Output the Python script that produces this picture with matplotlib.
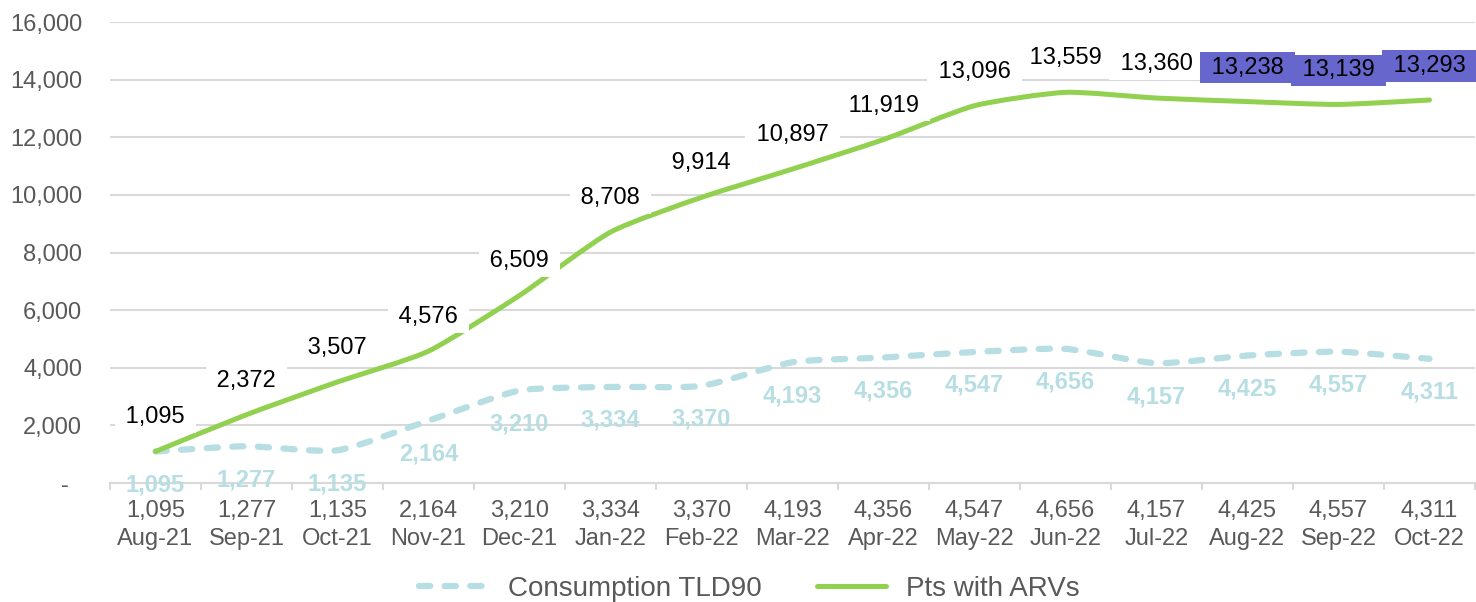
import matplotlib
matplotlib.use("Agg")
import matplotlib.pyplot as plt
import numpy as np
from matplotlib.path import Path
from matplotlib.patches import PathPatch
from matplotlib.lines import Line2D

plt.rcParams["font.family"] = ["Liberation Sans", "DejaVu Sans"]

months = ["Aug-21", "Sep-21", "Oct-21", "Nov-21", "Dec-21", "Jan-22", "Feb-22",
          "Mar-22", "Apr-22", "May-22", "Jun-22", "Jul-22", "Aug-22", "Sep-22", "Oct-22"]
consumption = [1095, 1277, 1135, 2164, 3210, 3334, 3370, 4193, 4356, 4547, 4656,
               4157, 4425, 4557, 4311]
pts_arvs = [1095, 2372, 3507, 4576, 6509, 8708, 9914, 10897, 11919, 13096, 13559,
            13360, 13238, 13139, 13293]
highlight_from = 12  # last three months get a coloured label box

GREEN = "#92D050"
BLUE = "#B7DEE2"
PURPLE = "#6666CC"
GRID = "#D9D9D9"
TICK = "#595959"


def smooth_path(xs, ys, k=0.1):
    """Bezier path through the points with gentle Catmull-Rom style tangents."""
    pts = np.column_stack([xs, ys]).astype(float)
    n = len(pts)
    verts = [pts[0]]
    codes = [Path.MOVETO]
    for i in range(n - 1):
        p0 = pts[i - 1] if i > 0 else pts[i]
        p1, p2 = pts[i], pts[i + 1]
        p3 = pts[i + 2] if i + 2 < n else pts[i + 1]
        c1 = p1 + (p2 - p0) * k
        c2 = p2 - (p3 - p1) * k
        verts += [c1, c2, p2]
        codes += [Path.CURVE4] * 3
    return Path(verts, codes)


fig = plt.figure(figsize=(14.76, 6.02), dpi=100)
ax = fig.add_axes([110 / 1476, 1 - 483 / 602, 1365 / 1476, 461 / 602])

x = np.arange(len(months))

dash_style = (0, (1.8, 2.3))
ax.add_patch(PathPatch(smooth_path(x, consumption), fill=False, edgecolor=BLUE,
                       lw=4.5, linestyle=dash_style, capstyle="round", zorder=3))
ax.add_patch(PathPatch(smooth_path(x, pts_arvs), fill=False, edgecolor=GREEN,
                       lw=3.6, capstyle="round", zorder=4))

# value labels
for i, v in enumerate(pts_arvs):
    face = PURPLE if i >= highlight_from else "white"
    ax.annotate(f" {v:,} ", (x[i], v), xytext=(0, 24.5), textcoords="offset points",
                ha="center", va="center", fontsize=17, color="black", zorder=6,
                bbox=dict(boxstyle="square,pad=0.2", fc=face, ec="none"))
for i, v in enumerate(consumption):
    ax.annotate(f"{v:,}", (x[i], v), xytext=(0, -24), textcoords="offset points",
                ha="center", va="center", fontsize=17, fontweight="bold",
                color=BLUE, zorder=5)

ax.set_xlim(-0.5, len(months) - 0.5)
ax.set_ylim(0, 16000)

ax.set_xticks(x)
ax.set_xticklabels([f"{c:,}\n{m}" for c, m in zip(consumption, months)],
                   linespacing=1.4)
ax.set_xticks(np.arange(-0.5, len(months)), minor=True)
ax.tick_params(axis="x", which="major", length=0, pad=12, labelsize=17, labelcolor=TICK)
ax.tick_params(axis="x", which="minor", length=5, width=1.5, color=GRID, direction="out")

yt = np.arange(0, 16001, 2000)
ax.set_yticks(yt)
ax.set_yticklabels(["-  " if t == 0 else f"{t:,}" for t in yt])
ax.tick_params(axis="y", length=0, pad=20, labelsize=17, labelcolor=TICK)

ax.grid(axis="y", color=GRID, lw=1.5, zorder=0)
ax.set_axisbelow(True)
for s in ["top", "right", "left"]:
    ax.spines[s].set_visible(False)
ax.spines["bottom"].set_color(GRID)
ax.spines["bottom"].set_linewidth(1.5)

handles = [
    Line2D([], [], color=BLUE, lw=4.5, linestyle=dash_style, dash_capstyle="round"),
    Line2D([], [], color=GREEN, lw=3.6, solid_capstyle="round"),
]
fig.legend(handles, ["Consumption TLD90", "Pts with ARVs"], loc="center",
           bbox_to_anchor=(749 / 1476, 1 - 589 / 602), ncol=2, frameon=False,
           fontsize=20, labelcolor=TICK, handlelength=2.5, handletextpad=0.7,
           columnspacing=2.0)

fig.savefig("out.png", dpi=100)
plt.close(fig)
